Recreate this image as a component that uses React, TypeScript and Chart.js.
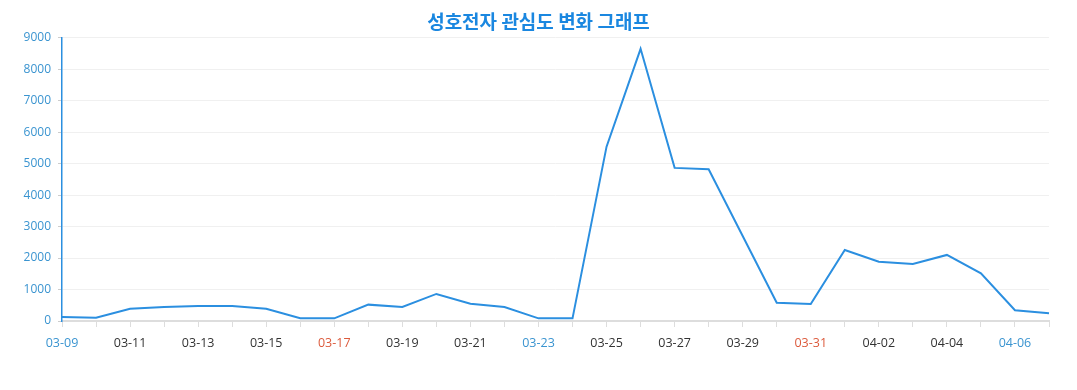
import React, { useEffect, useRef } from "react";
import { Chart, registerables } from "chart.js";

Chart.register(...registerables);

const title = "성호전자 관심도 변화 그래프";

const dates = [
  "03-09", "03-10", "03-11", "03-12", "03-13", "03-14", "03-15", "03-16", "03-17", "03-18",
  "03-19", "03-20", "03-21", "03-22", "03-23", "03-24", "03-25", "03-26", "03-27", "03-28",
  "03-29", "03-30", "03-31", "04-01", "04-02", "04-03", "04-04", "04-05", "04-06", "04-07",
];

const interest = [
  125, 105, 390, 445, 478, 478, 390, 85, 85, 520,
  445, 860, 550, 445, 85, 85, 5540, 8650, 4866, 4825,
  2700, 582, 540, 2258, 1886, 1813, 2100, 1517, 340, 245,
];

const yTicks = [0, 1000, 2000, 3000, 4000, 5000, 6000, 7000, 8000, 9000];

const blueDates = ["03-09", "03-23", "04-06"];
const redDates = ["03-17", "03-31"];

export default function App() {
  const ref = useRef<HTMLCanvasElement>(null);

  useEffect(() => {
    document.body.style.margin = "0";
    const canvas = ref.current;
    if (!canvas) return;
    const chart = new Chart(canvas, {
      type: "line",
      data: {
        labels: dates,
        datasets: [
          {
            label: "관심도",
            data: interest,
            yAxisID: "y",
            borderColor: "#2b8fe0",
            backgroundColor: "#2b8fe0",
            borderWidth: 2,
            pointRadius: 0,
            pointHoverRadius: 0,
            tension: 0,
            fill: false,
          },
        ],
      },
      options: {
        responsive: false,
        animation: false,
        layout: { padding: { left: 0, right: 0, top: 0, bottom: 0 } },
        plugins: {
          legend: { display: false },
          tooltip: { enabled: false },
          title: {
            display: true,
            text: title,
            color: "#1a87e0",
            font: { family: "'Noto Sans CJK KR', 'Noto Sans', sans-serif", size: 19, weight: "bold", lineHeight: 1.2 },
            padding: { top: 10, bottom: 5 },
          },
        },
        scales: {
          x: {
            type: "category",
            offset: false,
            grid: {
              drawOnChartArea: false,
              drawTicks: true,
              tickLength: 6,
              tickColor: "#dddddd",
              tickWidth: 1,
            },
            border: { display: true, color: "#dddddd", width: 2 },
            ticks: {
              autoSkip: false,
              maxRotation: 0,
              minRotation: 0,
              padding: 9,
              font: { family: "'Open Sans', sans-serif", size: 12.5 },
              color: (ctx: any) => {
                const lbl = dates[ctx.index];
                if (blueDates.includes(lbl)) return "#3a94d0";
                if (redDates.includes(lbl)) return "#dc5a3c";
                return "#333333";
              },
              callback: (_v: any, i: number) => (i % 2 === 0 ? dates[i] : ""),
            },
            afterFit: (s: any) => {
              s.height = 69;
            },
          },
          y: {
            position: "left",
            min: 0,
            max: 9000,
            afterBuildTicks: (s: any) => {
              s.ticks = yTicks.map((v) => ({ value: v }));
            },
            grid: {
              color: "#f0f0f0",
              lineWidth: 1,
              drawTicks: true,
              tickLength: 4,
              tickColor: "#cccccc",
            },
            border: { display: true, color: "#2b8fe0", width: 1.5 },
            ticks: {
              padding: 7,
              color: "#3a94d0",
              font: { family: "'Open Sans', sans-serif", size: 12 },
              callback: (v: any) => String(v),
            },
            afterFit: (s: any) => {
              s.width = 62;
            },
          },
          yRightSpacer: {
            type: "linear",
            position: "right",
            display: true,
            min: 0,
            max: 9000,
            grid: { drawOnChartArea: false, drawTicks: false },
            border: { display: false },
            ticks: { display: false },
            afterFit: (s: any) => {
              s.width = 28;
            },
          },
        },
      },
    });
    return () => chart.destroy();
  }, []);

  return (
    <div style={{ width: 1077, height: 390 }}>
      <canvas ref={ref} width={1077} height={390} style={{ display: "block" }} />
    </div>
  );
}
